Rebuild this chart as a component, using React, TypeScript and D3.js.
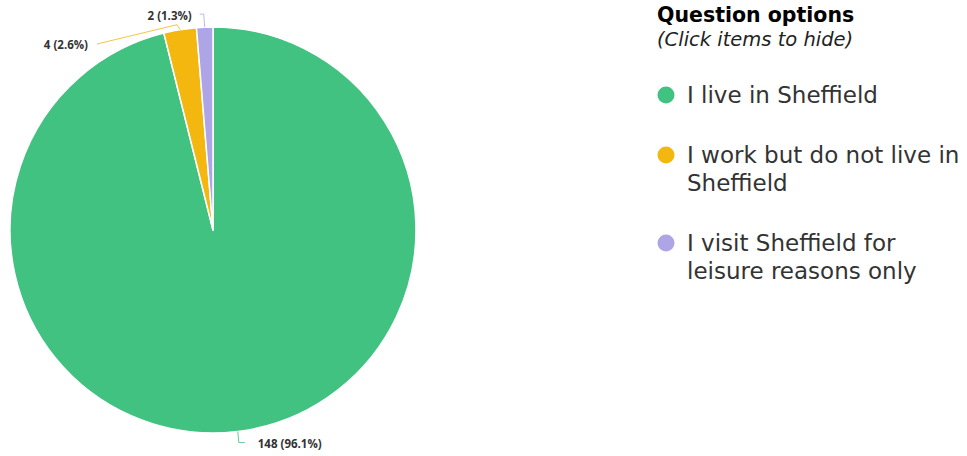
import React from "react";
import * as d3 from "d3";

const categories = [
  "I live in Sheffield",
  "I work but do not live in Sheffield",
  "I visit Sheffield for leisure reasons only",
];
const counts = [148, 4, 2];
const percents = ["96.1%", "2.6%", "1.3%"];
const colors = ["#41C281", "#F4B70F", "#ADA5E6"];
const legendLines = [
  ["I live in Sheffield"],
  ["I work but do not live in", "Sheffield"],
  ["I visit Sheffield for", "leisure reasons only"],
];

const W = 967;
const H = 456;
const cx = 213;
const cy = 230;
const R = 203;
const FONT = "'DejaVu Sans', Verdana, sans-serif";
const LABEL_FONT = "'Open Sans', sans-serif";

export default function App() {
  const pie = d3.pie<number>().sort(null).value((d) => d);
  const arcs = pie(counts);
  const arcGen = d3.arc<d3.PieArcDatum<number>>().innerRadius(0).outerRadius(R);

  const pt = (a: number, r: number): [number, number] => [
    cx + r * Math.sin(a),
    cy - r * Math.cos(a),
  ];

  const labels = arcs.map((a, i) => {
    const mid = (a.startAngle + a.endAngle) / 2;
    const [ex, ey] = pt(mid, R);
    const text = `${counts[i]} (${percents[i]})`;
    if (i === 0) {
      const pts: [number, number][] = [
        [ex, ey],
        [ex + 1, ey + 11],
        [ex + 7, ey + 11],
      ];
      return { pts, tx: ex + 20, ty: ey + 17, anchor: "start", text };
    } else if (i === 1) {
      const pts: [number, number][] = [
        [ex, ey],
        [ex - 3, ey - 5],
        [97, 44],
      ];
      return { pts, tx: 88, ty: 49, anchor: "end", text };
    } else {
      const pts: [number, number][] = [
        [ex, ey],
        [ex - 1, ey - 13],
        [ex - 5, ey - 13],
      ];
      return { pts, tx: ex - 13, ty: ey - 7, anchor: "end", text };
    }
  });

  const line = d3.line();

  return (
    <svg width={W} height={H} style={{ position: "absolute", left: 0, top: 0, fontFamily: FONT }}>
      <rect width={W} height={H} fill="#ffffff" />
      <g transform={`translate(${cx},${cy})`}>
        {arcs.map((a, i) => (
          <path key={i} d={arcGen(a) || ""} fill={colors[i]} stroke="#ffffff" strokeWidth={1.5} strokeLinejoin="round" />
        ))}
      </g>
      {labels.map((l, i) => (
        <g key={i}>
          <path d={line(l.pts) || ""} fill="none" stroke={colors[i]} strokeWidth={1} opacity={0.8} />
          <text x={l.tx} y={l.ty} textAnchor={l.anchor as any} fontSize={11.5} fontWeight="bold" fill="#333333" fontFamily={LABEL_FONT}>
            {l.text}
          </text>
        </g>
      ))}
      <text x={657} y={22} fontSize={20.5} fontWeight="bold" fill="#000000">
        Question options
      </text>
      <text x={657} y={46} fontSize={19.5} fontStyle="italic" fill="#222222">
        (Click items to hide)
      </text>
      {legendLines.map((lines, i) => {
        const y0 = [95, 155, 243][i];
        return (
          <g key={i}>
            <circle cx={666} cy={y0} r={8.5} fill={colors[i]} />
            {lines.map((t, j) => (
              <text key={j} x={687} y={y0 + 8 + j * 28} fontSize={23} fill="#333333">
                {t}
              </text>
            ))}
          </g>
        );
      })}
    </svg>
  );
}
